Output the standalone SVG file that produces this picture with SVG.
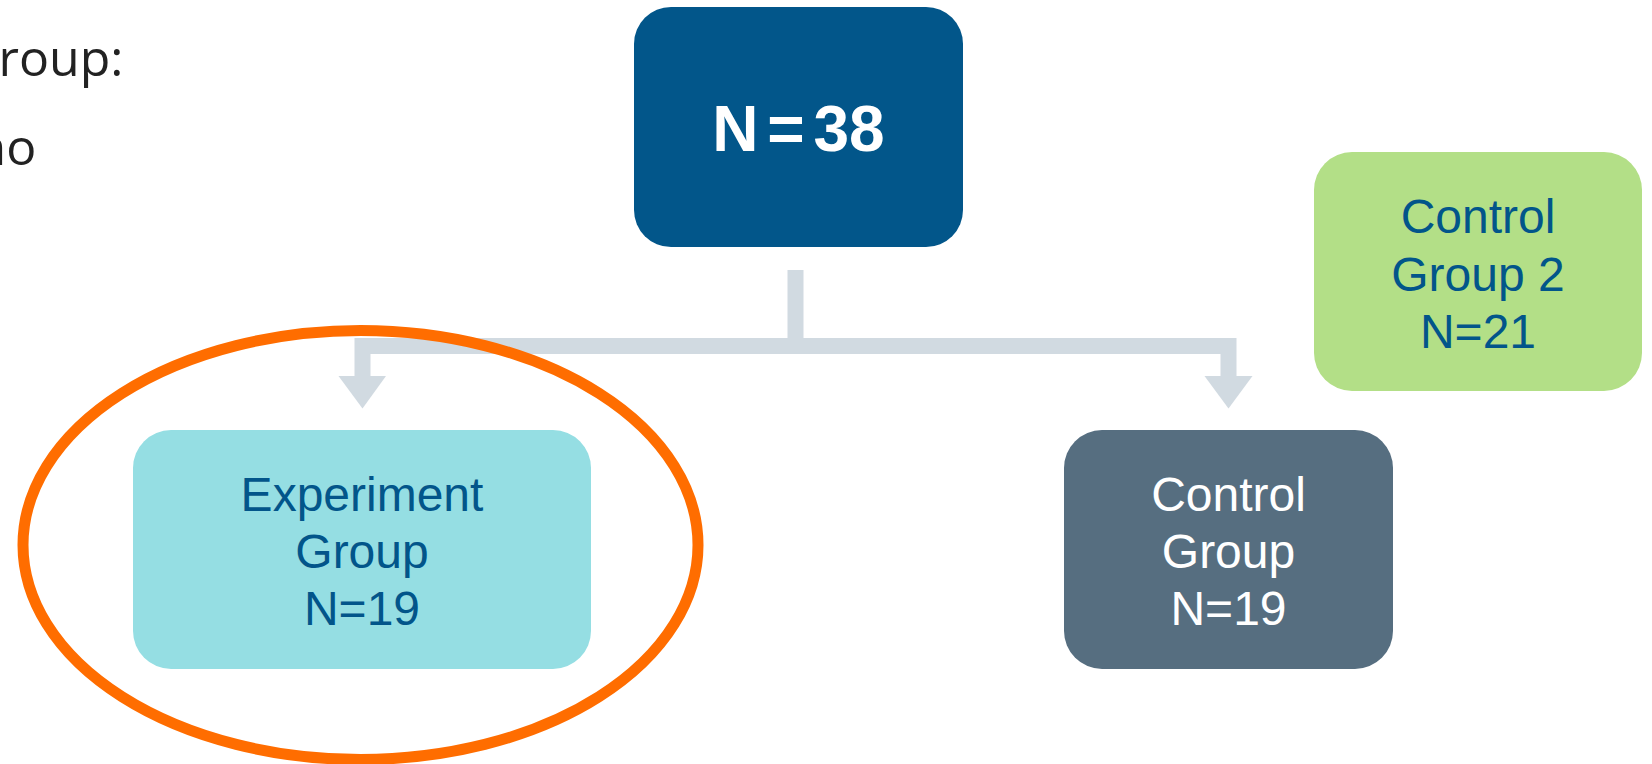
<svg xmlns="http://www.w3.org/2000/svg" width="1652" height="764" viewBox="0 0 1652 764">
  <style>
    .side { font-family: "Open Sans", "Noto Sans", sans-serif; font-size: 50px; fill: #222222; }
    .lbl { font-family: "Liberation Sans", Arial, sans-serif; font-size: 48px; text-anchor: middle; }
    .blue { fill: #02558A; }
    .white { fill: #FFFFFF; }
    .conn { fill: none; stroke: #D1DAE1; stroke-width: 16; stroke-linejoin: miter; stroke-linecap: butt; }
    .head { fill: #D1DAE1; }
  </style>
  <rect width="1652" height="764" fill="#FFFFFF"/>

  <g id="side-text">
    <text class="side" x="-1.5" y="76">roup:</text>
    <text class="side" x="-24.5" y="165">no</text>
  </g>

  <g id="connectors">
    <path class="conn" d="M795.5,270 V346 H362.5 V377"/>
    <path class="conn" d="M795.5,346 H1228.5 V377"/>
    <polygon class="head" points="338.5,376 386,376 362.5,408.5"/>
    <polygon class="head" points="1204.5,376 1252.5,376 1228.5,408.5"/>
  </g>

  <g id="node-total">
    <rect x="634" y="7" width="329" height="240" rx="37" ry="37" fill="#02568A"/>
    <text x="798.5" y="150.5" font-family="'Liberation Sans', Arial, sans-serif" font-size="64" font-weight="bold" fill="#FFFFFF" text-anchor="middle" word-spacing="-9">N = 38</text>
  </g>

  <g id="node-control2">
    <rect x="1314" y="152" width="328" height="239" rx="38" ry="38" fill="#B3DF87"/>
    <text class="lbl blue" x="1478" y="233">Control</text>
    <text class="lbl blue" x="1478" y="290.5">Group 2</text>
    <text class="lbl blue" x="1478" y="348">N=21</text>
  </g>

  <g id="node-experiment">
    <rect x="133" y="430" width="458" height="239" rx="38" ry="38" fill="#95DEE3"/>
    <text class="lbl blue" x="362" y="511">Experiment</text>
    <text class="lbl blue" x="362" y="568">Group</text>
    <text class="lbl blue" x="362" y="625">N=19</text>
  </g>

  <g id="node-control">
    <rect x="1064" y="430" width="329" height="239" rx="38" ry="38" fill="#566E80"/>
    <text class="lbl white" x="1228.5" y="511">Control</text>
    <text class="lbl white" x="1228.5" y="568">Group</text>
    <text class="lbl white" x="1228.5" y="625">N=19</text>
  </g>

  <g id="highlight">
    <ellipse cx="360.5" cy="545" rx="337.5" ry="214.5" fill="none" stroke="#FF6D00" stroke-width="11"/>
  </g>
</svg>
